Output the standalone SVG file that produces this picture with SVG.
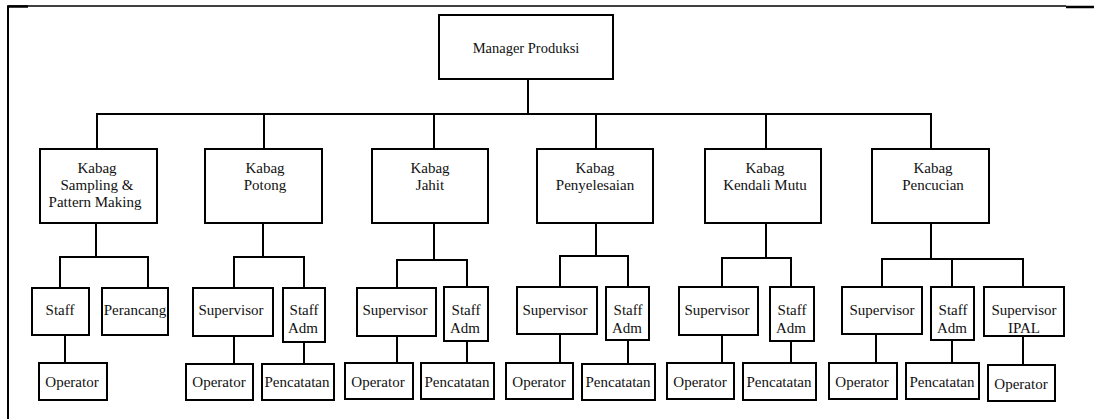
<svg xmlns="http://www.w3.org/2000/svg" width="1094" height="419" viewBox="0 0 1094 419" font-family="'Liberation Serif', 'Times New Roman', Times, 'DejaVu Serif', serif">
  <style>
    .box { fill: #ffffff; stroke: #000000; stroke-width: 2; }
    .wire { fill: none; stroke: #000000; stroke-width: 2; stroke-linejoin: miter; }
    .frame { fill: none; stroke: #000000; }
    .lbl { font-family: 'Liberation Serif', 'Times New Roman', Times, 'DejaVu Serif', serif; font-size: 15px; fill: #111111; text-anchor: middle; }
    .top { font-size: 14.5px; }
  </style>

  <rect width="1094" height="419" fill="#ffffff"/>

  <!-- page frame -->
  <g id="frame">
    <path class="frame" stroke-width="1.3" d="M8 6 H1066"/>
    <path class="frame" stroke-width="2.5" d="M7 6.5 H28"/>
    <path class="frame" stroke-width="2.5" d="M1066 7 H1094"/>
    <path class="frame" stroke-width="2" d="M8 6 V419"/>
  </g>

  <!-- connectors -->
  <g id="connectors">
    <path class="wire" d="M528 79 V114"/>
    <path class="wire" d="M97 149 V114 H931 V149"/>
    <path class="wire" d="M264 114 V149 M434 114 V149 M596 114 V149 M766 114 V149"/>

    <!-- Sampling & Pattern Making -->
    <path class="wire" d="M96 223 V257"/>
    <path class="wire" d="M60 288 V257 H148 V288"/>
    <path class="wire" d="M65 335 V363"/>

    <!-- Potong -->
    <path class="wire" d="M263 223 V257"/>
    <path class="wire" d="M234 288 V257 H304 V288"/>
    <path class="wire" d="M234 336 V364"/>
    <path class="wire" d="M304 342 V364"/>

    <!-- Jahit -->
    <path class="wire" d="M434 223 V260"/>
    <path class="wire" d="M397 288 V260 H467 V287"/>
    <path class="wire" d="M397 336 V363"/>
    <path class="wire" d="M467 341 V363"/>

    <!-- Penyelesaian -->
    <path class="wire" d="M596 223 V256"/>
    <path class="wire" d="M560 287 V256 H628 V287"/>
    <path class="wire" d="M560 334 V363"/>
    <path class="wire" d="M628 340 V364"/>

    <!-- Kendali Mutu -->
    <path class="wire" d="M766 223 V258"/>
    <path class="wire" d="M722 287 V258 H791 V287"/>
    <path class="wire" d="M722 335 V363"/>
    <path class="wire" d="M791 341 V363"/>

    <!-- Pencucian -->
    <path class="wire" d="M931 223 V259"/>
    <path class="wire" d="M882 287 V259 H1023 V287"/>
    <path class="wire" d="M952 259 V287"/>
    <path class="wire" d="M876 334 V363"/>
    <path class="wire" d="M952 340 V363"/>
    <path class="wire" d="M1023 336 V365"/>
  </g>

  <!-- top -->
  <g id="manager">
    <rect class="box" x="439" y="15" width="174" height="64"/>
    <text class="lbl top" x="526" y="53">Manager Produksi</text>
  </g>

  <!-- department heads -->
  <g id="kabag-sampling">
    <rect class="box" x="40" y="149" width="117" height="74"/>
    <text class="lbl" x="97" y="173">Kabag</text>
    <text class="lbl" x="97" y="190">Sampling &amp;</text>
    <text class="lbl" x="95" y="207">Pattern Making</text>
  </g>
  <g id="kabag-potong">
    <rect class="box" x="205" y="149" width="117" height="74"/>
    <text class="lbl" x="265" y="173">Kabag</text>
    <text class="lbl" x="265" y="190">Potong</text>
  </g>
  <g id="kabag-jahit">
    <rect class="box" x="372" y="149" width="116" height="74"/>
    <text class="lbl" x="430" y="173">Kabag</text>
    <text class="lbl" x="430" y="190">Jahit</text>
  </g>
  <g id="kabag-penyelesaian">
    <rect class="box" x="537" y="149" width="116" height="74"/>
    <text class="lbl" x="595" y="173">Kabag</text>
    <text class="lbl" x="595" y="190">Penyelesaian</text>
  </g>
  <g id="kabag-kendali-mutu">
    <rect class="box" x="705" y="149" width="116" height="74"/>
    <text class="lbl" x="765" y="173">Kabag</text>
    <text class="lbl" x="765" y="190">Kendali Mutu</text>
  </g>
  <g id="kabag-pencucian">
    <rect class="box" x="872" y="149" width="117" height="74"/>
    <text class="lbl" x="933" y="173">Kabag</text>
    <text class="lbl" x="933" y="190">Pencucian</text>
  </g>

  <!-- Sampling & Pattern Making staff -->
  <g id="s1-staff">
    <rect class="box" x="32" y="288" width="57" height="47"/>
    <text class="lbl" x="60" y="315">Staff</text>
  </g>
  <g id="s1-perancang">
    <rect class="box" x="102" y="288" width="66" height="47"/>
    <text class="lbl" x="135" y="315">Perancang</text>
  </g>
  <g id="s1-operator">
    <rect class="box" x="39" y="363" width="68" height="37"/>
    <text class="lbl" x="72" y="387">Operator</text>
  </g>

  <!-- Potong staff -->
  <g id="s2-supervisor">
    <rect class="box" x="193" y="288" width="80" height="48"/>
    <text class="lbl" x="231" y="315">Supervisor</text>
  </g>
  <g id="s2-staff-adm">
    <rect class="box" x="283" y="288" width="42" height="54"/>
    <text class="lbl" x="304" y="315">Staff</text>
    <text class="lbl" x="303" y="333">Adm</text>
  </g>
  <g id="s2-operator">
    <rect class="box" x="186" y="364" width="67" height="36"/>
    <text class="lbl" x="219" y="387">Operator</text>
  </g>
  <g id="s2-pencatatan">
    <rect class="box" x="262" y="364" width="72" height="36"/>
    <text class="lbl" x="297" y="387">Pencatatan</text>
  </g>

  <!-- Jahit staff -->
  <g id="s3-supervisor">
    <rect class="box" x="357" y="288" width="79" height="48"/>
    <text class="lbl" x="395" y="315">Supervisor</text>
  </g>
  <g id="s3-staff-adm">
    <rect class="box" x="444" y="287" width="44" height="54"/>
    <text class="lbl" x="466" y="315">Staff</text>
    <text class="lbl" x="465" y="333">Adm</text>
  </g>
  <g id="s3-operator">
    <rect class="box" x="345" y="363" width="68" height="36"/>
    <text class="lbl" x="378" y="387">Operator</text>
  </g>
  <g id="s3-pencatatan">
    <rect class="box" x="421" y="363" width="73" height="36"/>
    <text class="lbl" x="457" y="387">Pencatatan</text>
  </g>

  <!-- Penyelesaian staff -->
  <g id="s4-supervisor">
    <rect class="box" x="517" y="287" width="80" height="47"/>
    <text class="lbl" x="555" y="315">Supervisor</text>
  </g>
  <g id="s4-staff-adm">
    <rect class="box" x="606" y="287" width="43" height="53"/>
    <text class="lbl" x="628" y="315">Staff</text>
    <text class="lbl" x="627" y="333">Adm</text>
  </g>
  <g id="s4-operator">
    <rect class="box" x="506" y="363" width="67" height="36"/>
    <text class="lbl" x="539" y="387">Operator</text>
  </g>
  <g id="s4-pencatatan">
    <rect class="box" x="582" y="364" width="73" height="36"/>
    <text class="lbl" x="618" y="387">Pencatatan</text>
  </g>

  <!-- Kendali Mutu staff -->
  <g id="s5-supervisor">
    <rect class="box" x="679" y="287" width="79" height="48"/>
    <text class="lbl" x="717" y="315">Supervisor</text>
  </g>
  <g id="s5-staff-adm">
    <rect class="box" x="770" y="287" width="44" height="54"/>
    <text class="lbl" x="792" y="315">Staff</text>
    <text class="lbl" x="791" y="333">Adm</text>
  </g>
  <g id="s5-operator">
    <rect class="box" x="667" y="363" width="67" height="36"/>
    <text class="lbl" x="700" y="387">Operator</text>
  </g>
  <g id="s5-pencatatan">
    <rect class="box" x="743" y="363" width="73" height="37"/>
    <text class="lbl" x="779" y="387">Pencatatan</text>
  </g>

  <!-- Pencucian staff -->
  <g id="s6-supervisor">
    <rect class="box" x="842" y="287" width="80" height="47"/>
    <text class="lbl" x="882" y="315">Supervisor</text>
  </g>
  <g id="s6-staff-adm">
    <rect class="box" x="931" y="287" width="43" height="53"/>
    <text class="lbl" x="953" y="315">Staff</text>
    <text class="lbl" x="952" y="333">Adm</text>
  </g>
  <g id="s6-supervisor-ipal">
    <rect class="box" x="984" y="287" width="80" height="49"/>
    <text class="lbl" x="1024" y="315">Supervisor</text>
    <text class="lbl" x="1024" y="333">IPAL</text>
  </g>
  <g id="s6-operator">
    <rect class="box" x="829" y="363" width="68" height="36"/>
    <text class="lbl" x="862" y="387">Operator</text>
  </g>
  <g id="s6-pencatatan">
    <rect class="box" x="906" y="363" width="73" height="36"/>
    <text class="lbl" x="942" y="387">Pencatatan</text>
  </g>
  <g id="s6-operator-ipal">
    <rect class="box" x="988" y="365" width="67" height="36"/>
    <text class="lbl" x="1021" y="389">Operator</text>
  </g>
</svg>
